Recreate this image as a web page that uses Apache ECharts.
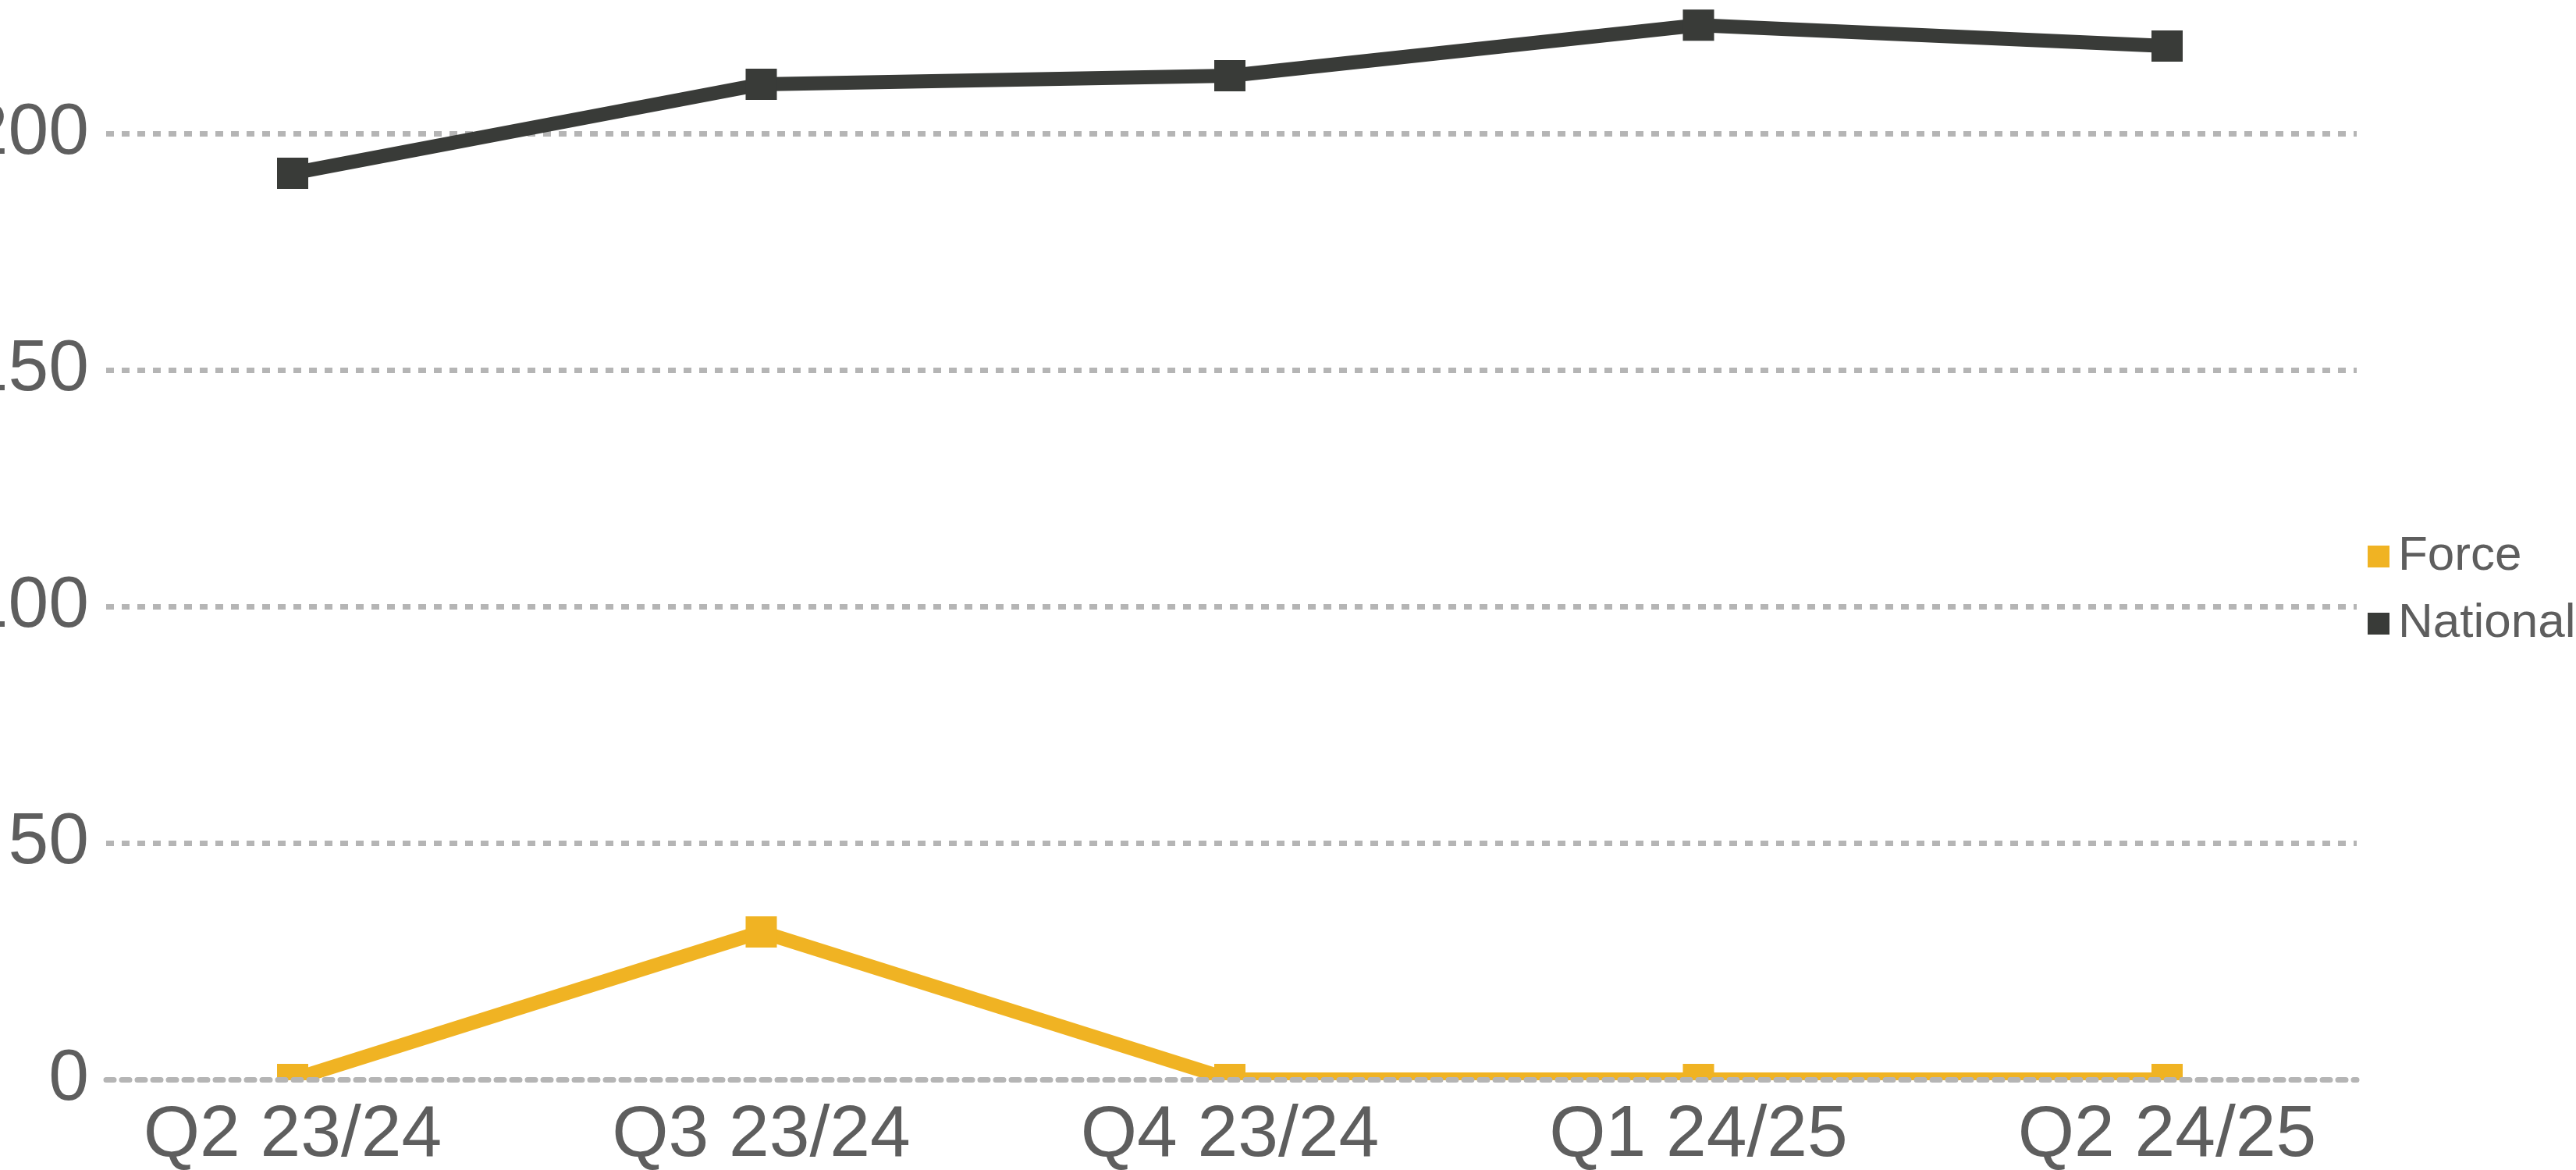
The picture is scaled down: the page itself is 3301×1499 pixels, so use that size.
<!DOCTYPE html>
<html>
<head>
<meta charset="utf-8">
<script src="https://cdn.jsdelivr.net/npm/echarts@6/dist/echarts.min.js"></script>
<style>
  html, body { margin: 0; padding: 0; background: #fff; overflow: hidden; }
  /* the original is cropped at the top: the 250 line sits just above the visible area */
  #chart { width: 3301px; height: 1631px; margin-top: -132px; }
</style>
</head>
<body>
<div id="chart"></div>
<script>
// data
const quarters = ['Q2 23/24', 'Q3 23/24', 'Q4 23/24', 'Q1 24/25', 'Q2 24/25'];
const forceValues = [0, 31.2, 0, 0, 0];
const nationalValues = [191.6, 210.4, 212.2, 222.9, 218.5];
const yTicks = [0, 50, 100, 150, 200, 250];

const FONT = '"Liberation Sans", Arial, sans-serif';
const TEXT = '#5e5e5e';
const GRID_LINE = '#b5b5b5';
const dotted = { color: GRID_LINE, width: 7, type: [10, 10] };

const chart = echarts.init(document.getElementById('chart'));

const yMin = yTicks[0];
const yMax = yTicks[yTicks.length - 1];
const yStep = yTicks[1] - yTicks[0];

chart.setOption({
  backgroundColor: '#fff',
  animation: false,
  textStyle: { fontFamily: FONT },
  grid: [
    // background grid: dotted lines + y labels
    { left: 136, right: 281, top: 0, bottom: 116, containLabel: false, outerBoundsMode: 'none' },
    // plotting grid: category points
    { left: 375, right: 524, top: 0, bottom: 116, containLabel: false, outerBoundsMode: 'none' }
  ],
  legend: {
    orient: 'vertical',
    left: 3029,
    top: 809,
    itemWidth: 28,
    itemHeight: 28,
    itemGap: 24,
    icon: 'rect',
    textStyle: { fontSize: 62, lineHeight: 62, color: TEXT, fontFamily: FONT, padding: [0, 0, 0, 6] },
    data: ['Force', 'National']
  },
  xAxis: [
    {
      gridIndex: 0, type: 'value', min: 0, max: 1, z: 100,
      axisLine: { show: true, lineStyle: dotted },
      axisTick: { show: false }, axisLabel: { show: false }, splitLine: { show: false }
    },
    {
      gridIndex: 1, type: 'category', data: quarters, boundaryGap: false,
      axisLine: { show: false }, axisTick: { show: false },
      axisLabel: { fontSize: 93, color: TEXT, fontFamily: FONT, margin: 26 }
    }
  ],
  yAxis: [
    {
      gridIndex: 0, type: 'value', min: yMin, max: yMax, interval: yStep,
      axisLine: { show: false }, axisTick: { show: false },
      axisLabel: { fontSize: 93, color: TEXT, fontFamily: FONT, margin: 22 },
      splitLine: { show: true, lineStyle: dotted }
    },
    {
      gridIndex: 1, type: 'value', min: yMin, max: yMax, interval: yStep,
      axisLine: { show: false }, axisTick: { show: false },
      axisLabel: { show: false }, splitLine: { show: false }
    }
  ],
  // white strip under the zero line so the series is clipped there like in the original
  graphic: [{
    type: 'rect', z: 50, silent: true,
    left: 136, top: 1516,
    shape: { x: 0, y: 0, width: 2884, height: 28 },
    style: { fill: '#fff' }
  }],
  series: [
    {
      name: 'National', type: 'line', xAxisIndex: 1, yAxisIndex: 1,
      data: nationalValues,
      symbol: 'rect', symbolSize: 40,
      lineStyle: { color: '#393b38', width: 18 },
      itemStyle: { color: '#393b38' }
    },
    {
      name: 'Force', type: 'line', xAxisIndex: 1, yAxisIndex: 1,
      data: forceValues,
      symbol: 'rect', symbolSize: 40,
      lineStyle: { color: '#f0b323', width: 18 },
      itemStyle: { color: '#f0b323' }
    }
  ]
});
</script>
</body>
</html>
